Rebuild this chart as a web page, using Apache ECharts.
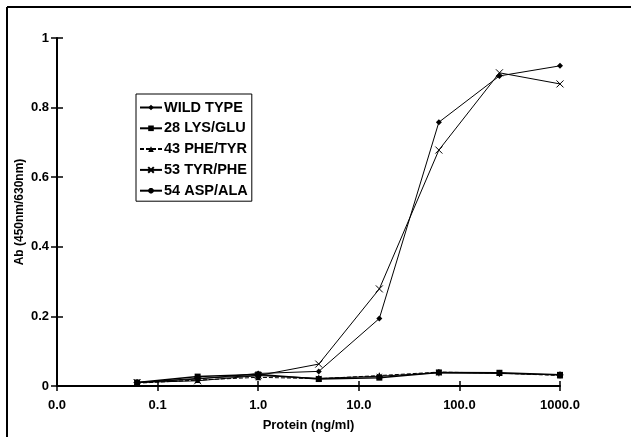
<!DOCTYPE html>
<html>
<head>
<meta charset="utf-8">
<script src="https://cdn.jsdelivr.net/npm/echarts@6/dist/echarts.min.js"></script>
<style>html,body{margin:0;padding:0;background:#fff}#c{width:631px;height:437px}</style>
</head>
<body>
<div id="c"></div>
<script>
const concentrations = [0.0625, 0.25, 1, 4, 16, 62.5, 250, 1000];
const seriesNames = ['WILD TYPE', '28 LYS/GLU', '43 PHE/TYR', '53 TYR/PHE', '54 ASP/ALA'];
const wildType = [0.010, 0.020, 0.036, 0.042, 0.194, 0.758, 0.891, 0.920];
const lys28Glu = [0.010, 0.027, 0.033, 0.020, 0.024, 0.039, 0.038, 0.032];
const phe43Tyr = [0.008, 0.017, 0.025, 0.021, 0.030, 0.040, 0.037, 0.030];
const tyr53Phe = [0.010, 0.015, 0.030, 0.063, 0.279, 0.678, 0.900, 0.868];
const asp54Ala = [0.010, 0.022, 0.030, 0.022, 0.028, 0.038, 0.036, 0.032];
const yTicks = [0, 0.2, 0.4, 0.6, 0.8, 1];

const valuesList = [wildType, lys28Glu, phe43Tyr, tyr53Phe, asp54Ala];
const symbols = [
  'diamond',
  'rect',
  'triangle',
  'path://M0,0L10,10M10,0L0,10',
  'path://M0,5L10,5M5,0L5,10M1.5,1.5L8.5,8.5M8.5,1.5L1.5,8.5'
];
const symbolSizes = [6, 6, 6, 7, 7];
const font = 'Liberation Sans, Arial, sans-serif';

const chart = echarts.init(document.getElementById('c'), null, {renderer: 'canvas'});

const series = seriesNames.map((name, i) => ({
  name: name,
  type: 'line',
  xAxisIndex: 0,
  yAxisIndex: 0,
  data: concentrations.map((c, j) => [c, valuesList[i][j]]),
  symbol: symbols[i],
  symbolSize: symbolSizes[i],
  showAllSymbol: true,
  lineStyle: {color: '#000', width: (i === 1) ? 1.5 : 1, type: (i === 2) ? [4, 2] : 'solid'},
  itemStyle: {color: (i >= 3) ? 'none' : '#000', borderColor: '#000', borderWidth: (i >= 3) ? 1 : 0},
  emphasis: {disabled: true},
  animation: false,
  z: 5 - i
}));

const option = {
  animation: false,
  backgroundColor: '#fff',
  textStyle: {fontFamily: font},
  grid: {left: 57, right: 71, top: 38, bottom: 47.5, containLabel: false},
  legend: {
    orient: 'vertical',
    left: 136,
    top: 94,
    data: seriesNames,
    backgroundColor: '#fff',
    borderColor: '#000',
    borderWidth: 1,
    borderRadius: 0,
    padding: [6, 4, 3, 3],
    itemGap: 5.8,
    itemWidth: 22,
    itemHeight: 7,
    textStyle: {fontFamily: font, fontWeight: 'bold', fontSize: 14.5, color: '#000', lineHeight: 14, padding: [0, 0, 0, -3]},
    selectedMode: false
  },
  xAxis: [{
    type: 'log',
    logBase: 10,
    min: 0.01,
    max: 1000,
    position: 'bottom',
    name: 'Protein (ng/ml)',
    nameLocation: 'middle',
    nameGap: 33,
    nameMoveOverlap: false,
    nameTextStyle: {fontFamily: font, fontWeight: 'bold', fontSize: 13, color: '#000'},
    axisLine: {show: true, lineStyle: {color: '#000', width: 2}},
    axisTick: {show: true, length: 5, lineStyle: {color: '#000', width: 1.5}},
    minorTick: {show: false},
    axisLabel: {
      margin: 13,
      fontFamily: font, fontWeight: 'bold', fontSize: 13, color: '#000',
      formatter: v => Number(v).toFixed(1)
    },
    splitLine: {show: false}
  }, {
    type: 'log',
    logBase: 10,
    min: 0.01,
    max: 1000,
    position: 'bottom',
    axisLine: {show: false},
    axisTick: {show: true, inside: true, length: 5, lineStyle: {color: '#000', width: 1.5}},
    axisLabel: {show: false},
    splitLine: {show: false}
  }],
  yAxis: [{
    type: 'value',
    min: yTicks[0],
    max: yTicks[yTicks.length - 1],
    interval: 0.2,
    position: 'left',
    name: 'Ab (450nm/630nm)',
    nameLocation: 'middle',
    nameGap: 31,
    nameMoveOverlap: false,
    nameTextStyle: {fontFamily: font, fontWeight: 'bold', fontSize: 12, color: '#000'},
    axisLine: {show: true, lineStyle: {color: '#000', width: 2}},
    axisTick: {show: true, length: 6, lineStyle: {color: '#000', width: 1.5}},
    axisLabel: {
      margin: 8,
      fontFamily: font, fontWeight: 'bold', fontSize: 13, color: '#000',
      formatter: v => String(Math.round(v * 10) / 10)
    },
    splitLine: {show: false}
  }, {
    type: 'value',
    min: yTicks[0],
    max: yTicks[yTicks.length - 1],
    interval: 0.2,
    position: 'left',
    axisLine: {show: false},
    axisTick: {show: true, inside: true, length: 6, lineStyle: {color: '#000', width: 1.5}},
    axisLabel: {show: false},
    splitLine: {show: false}
  }],
  graphic: [
    {type: 'line', shape: {x1: 7, y1: 7, x2: 631, y2: 7}, style: {stroke: '#000', lineWidth: 2}, silent: true},
    {type: 'line', shape: {x1: 7, y1: 7, x2: 7, y2: 437}, style: {stroke: '#000', lineWidth: 2}, silent: true}
  ],
  series: series
};
chart.setOption(option);
</script>
</body>
</html>
